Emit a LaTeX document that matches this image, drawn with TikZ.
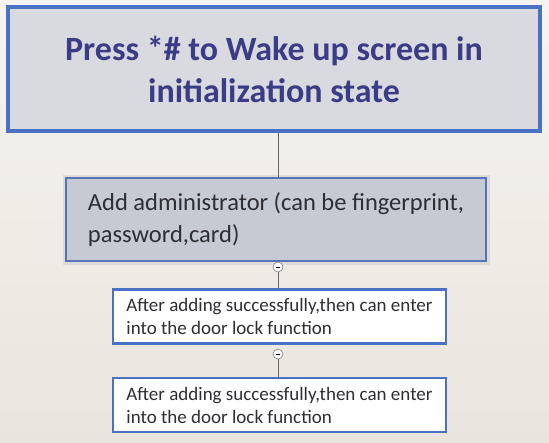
\documentclass[tikz,border=0pt]{standalone}
\usepackage{fontspec}
\setmainfont{Carlito}
\usepackage{tikz}
\usetikzlibrary{positioning}

\definecolor{papertop}{HTML}{F5F4F1}
\definecolor{paperbottom}{HTML}{EAE5DC}
\definecolor{frameblue}{HTML}{4A72C4}
\definecolor{titleink}{HTML}{3B3C86}
\definecolor{boxgray}{HTML}{D9DADF}
\definecolor{admingray}{HTML}{C5CAD3}
\definecolor{textink}{HTML}{2E2E33}

\tikzset{
  titlebox/.style={draw=frameblue,line width=4pt,fill=boxgray,minimum width=532pt,minimum height=124pt,
    align=center,text=titleink,font=\fontsize{34}{42}\selectfont\bfseries},
  adminbox/.style={draw=frameblue!80!gray,line width=1.6pt,fill=admingray,minimum width=420pt,minimum height=83pt,
    preaction={draw=black!14,line width=7pt},
    align=left,text=textink,font=\fontsize{24.5}{32}\selectfont},
  stepbox/.style={draw=frameblue,line width=2.6pt,fill=white,minimum width=333pt,minimum height=54pt,
    align=left,text=textink,font=\fontsize{19}{23}\selectfont},
  knob/.style={circle,draw=gray,fill=white,inner sep=0pt,minimum size=10pt,line width=0.6pt},
  link/.style={draw=gray!80!black,line width=0.8pt}
}

\begin{document}
\begin{tikzpicture}[x=1pt,y=-1pt]
\shade[top color=papertop,bottom color=paperbottom] (0,0) rectangle (549,442);
\useasboundingbox (0,0) rectangle (549,442);

\node[titlebox] (wake) at (274,69) {Press *\# to Wake up screen in\\initialization state};

\node[adminbox] (admin) at (276,219.5) {Add administrator (can be fingerprint,\\password,card)};
\node[knob] (k1) at (278,267) {\rule{4pt}{0.6pt}};
\node[stepbox] (enter1) at (279.5,316.5) {After adding successfully,then can enter\\into the door lock function};
\node[knob] (k2) at (278,354) {\rule{4pt}{0.6pt}};
\node[stepbox] (enter2) at (279.5,405) {After adding successfully,then can enter\\into the door lock function};

\draw[link] (wake.south -| k1) -- (admin.north -| k1);
\draw[link] (k1) -- (enter1.north -| k1);
\draw[link] (k2) -- (enter2.north -| k2);
\end{tikzpicture}
\end{document}
